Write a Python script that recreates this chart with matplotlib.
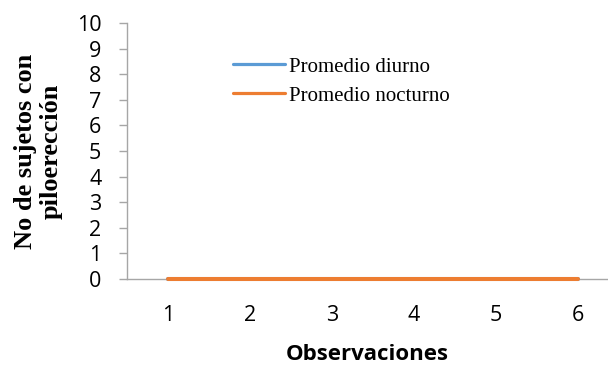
import matplotlib
matplotlib.use("Agg")
import matplotlib.pyplot as plt

observaciones = [1, 2, 3, 4, 5, 6]
promedio_diurno = [0, 0, 0, 0, 0, 0]
promedio_nocturno = [0, 0, 0, 0, 0, 0]
y_ticks = list(range(0, 11))

blue = "#5B9BD5"
orange = "#ED7D31"
axis_grey = "#A6A6A6"

fig = plt.figure(figsize=(6.08, 3.65), dpi=100)
ax = fig.add_axes([127 / 608, 1 - 279 / 365, 1 - 127 / 608, (279 - 23) / 365])

ax.plot(observaciones, promedio_diurno, color=blue, lw=2.9, solid_capstyle="round",
        label="Promedio diurno", clip_on=False, zorder=3)
ax.plot(observaciones, promedio_nocturno, color=orange, lw=2.9, solid_capstyle="round",
        label="Promedio nocturno", clip_on=False, zorder=4)

ax.set_xlim(0.5, 1 + 440 / 82)
ax.set_ylim(0, 10)
ax.set_yticks(y_ticks)
ax.set_xticks(observaciones)

for side in ("top", "right"):
    ax.spines[side].set_visible(False)
for side in ("left", "bottom"):
    ax.spines[side].set_color(axis_grey)
    ax.spines[side].set_linewidth(1.0)

tick_font = {"family": "Open Sans", "size": 15.5}
ax.set_yticklabels([str(v) for v in y_ticks], fontdict=tick_font)
ax.set_xticklabels([str(v) for v in observaciones], fontdict=tick_font)
ax.tick_params(axis="y", length=6, width=1, color=axis_grey, pad=12.5)
ax.tick_params(axis="x", length=0, pad=19)

ax.set_xlabel("Observaciones", fontfamily="Open Sans", fontweight="bold",
              fontsize=16, labelpad=13)
ax.set_ylabel("No de sujetos con\npiloerección", fontfamily="Liberation Serif",
              fontweight="bold", fontsize=19, linespacing=1.15, labelpad=10)

leg = ax.legend(loc="upper left", bbox_to_anchor=(233 / 608, 1 - 57 / 365),
                bbox_transform=fig.transFigure, frameon=False,
                prop={"family": "Liberation Serif", "size": 15},
                handlelength=2.5, handletextpad=0.2, labelspacing=0.45,
                borderpad=0, borderaxespad=0)
for line in leg.get_lines():
    line.set_linewidth(2.3)

fig.savefig("out.png", dpi=100)
